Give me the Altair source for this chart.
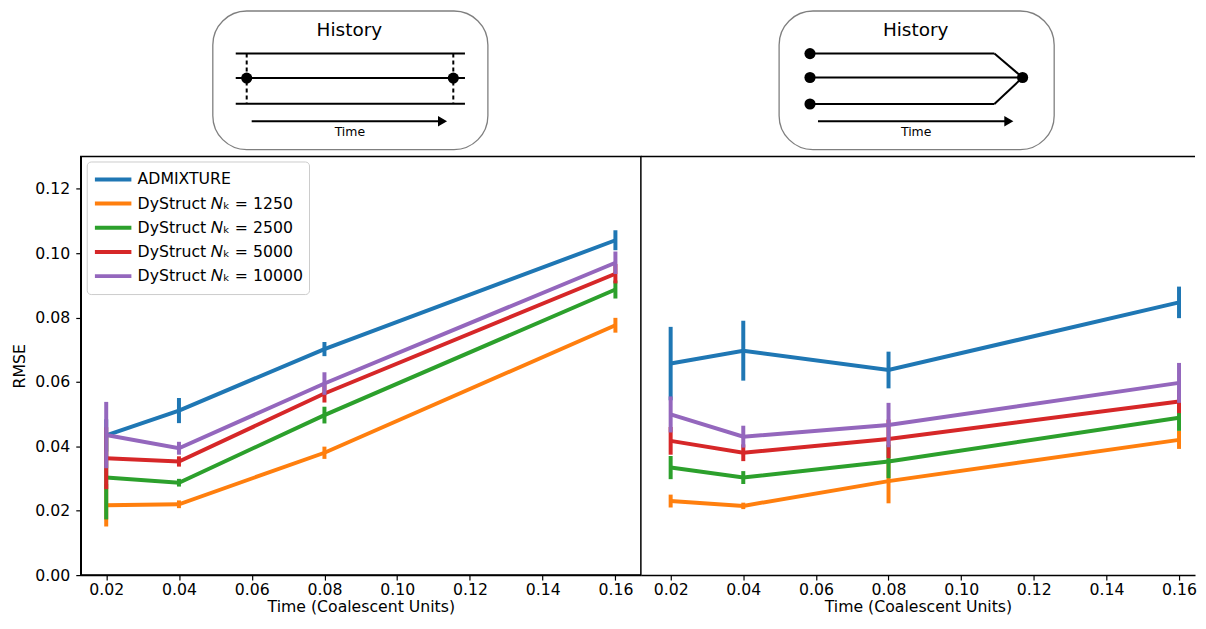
import altair as alt
import pandas as pd

# ---------------- data ----------------
times = [0.02, 0.04, 0.08, 0.16]
x_ticks = [0.02, 0.04, 0.06, 0.08, 0.10, 0.12, 0.14, 0.16]
y_ticks = [0.00, 0.02, 0.04, 0.06, 0.08, 0.10, 0.12]
series = ["ADMIXTURE", "DyStruct 𝑁ₖ = 1250", "DyStruct 𝑁ₖ = 2500",
          "DyStruct 𝑁ₖ = 5000", "DyStruct 𝑁ₖ = 10000"]
colors = ["#1f77b4", "#ff7f0e", "#2ca02c", "#d62728", "#9467bd"]

# left panel (pulse migration)
left_admixture = [0.0434, 0.0511, 0.0702, 0.1040]
left_admixture_err = [0.0050, 0.0039, 0.0022, 0.0031]
left_1250 = [0.0217, 0.0220, 0.0380, 0.0776]
left_1250_err = [0.0066, 0.0012, 0.0019, 0.0023]
left_2500 = [0.0303, 0.0287, 0.0497, 0.0887]
left_2500_err = [0.0130, 0.0012, 0.0026, 0.0028]
left_5000 = [0.0363, 0.0353, 0.0564, 0.0936]
left_5000_err = [0.0096, 0.0016, 0.0028, 0.0030]
left_10000 = [0.0435, 0.0394, 0.0595, 0.0970]
left_10000_err = [0.0103, 0.0020, 0.0035, 0.0035]

# right panel (population merge)
right_admixture = [0.0657, 0.0697, 0.0637, 0.0847]
right_admixture_err = [0.0114, 0.0093, 0.0057, 0.0049]
right_1250 = [0.0230, 0.0215, 0.0292, 0.0420]
right_1250_err = [0.0020, 0.0010, 0.0069, 0.0028]
right_2500 = [0.0334, 0.0303, 0.0353, 0.0489]
right_2500_err = [0.0036, 0.0020, 0.0052, 0.0041]
right_5000 = [0.0417, 0.0380, 0.0423, 0.0539]
right_5000_err = [0.0043, 0.0026, 0.0060, 0.0036]
right_10000 = [0.0499, 0.0430, 0.0466, 0.0597]
right_10000_err = [0.0056, 0.0034, 0.0069, 0.0062]

# schematic diagrams (in box-local units)
box_x = [0]; box_x2 = [276]; box_y = [0]; box_y2 = [139]
title_x = [137]; title_y = [19]; title_text = ["History"]
time_x = [137.5]; time_y = [121]; time_text = ["Time"]
arrow_x = [39]; arrow_x2 = [228]; arrow_y = [110.7]
arrow_tip_x = [230.5]

# pulse diagram: three lineages, migration at two times
pulse_seg_x = [23, 23, 23]
pulse_seg_x2 = [253, 253, 253]
pulse_seg_y = [42.7, 67.3, 93.0]
pulse_seg_y2 = [42.7, 67.3, 93.0]
pulse_dash_x = [34, 241.3]
pulse_dash_y = [42.7, 42.7]
pulse_dash_y2 = [93.0, 93.0]
pulse_dot_x = [34, 241.3]
pulse_dot_y = [67.3, 67.3]

# merge diagram: three lineages merging into one
merge_seg_x = [31, 216, 31, 31, 216]
merge_seg_x2 = [216, 244.3, 244.3, 216, 244.3]
merge_seg_y = [42.7, 42.7, 66.7, 93.3, 93.3]
merge_seg_y2 = [42.7, 66.7, 66.7, 93.3, 66.7]
merge_dot_x = [31, 31, 31, 244.3]
merge_dot_y = [42.7, 66.7, 93.3, 66.7]

LEFT_W = 562
RIGHT_W = 556
PANEL_H = 420
DIAG_H = 147
FONT = "DejaVu Sans"
AX_FS = 15.75


def panel(means, errs, left):
    rows = []
    for s, m, e in zip(series, means, errs):
        for t, v, d in zip(times, m, e):
            rows.append({"series": s, "time": t, "rmse": v, "lo": v - d, "hi": v + d})
    df = pd.DataFrame(rows)
    width = LEFT_W if left else RIGHT_W
    xdom = [0.013, 0.167] if left else [0.0118, 0.1644]
    xscale = alt.Scale(domain=xdom, nice=False, zero=False)
    yscale = alt.Scale(domain=[0, 0.13], nice=False, zero=False)
    xaxis = alt.Axis(values=x_ticks, format=".2f", title="Time (Coalescent Units)",
                     labelPadding=2, titlePadding=3)
    if left:
        yaxis = alt.Axis(values=y_ticks, format=".2f", title="RMSE", labelPadding=6,
                         titlePadding=7)
        legend = alt.Legend(title=None, orient="none", legendX=6, legendY=5,
                            symbolType="stroke",
                            symbolStrokeWidth=4, symbolSize=1340, clipHeight=24,
                            rowPadding=0.25, labelFontSize=15.75, labelFont=FONT,
                            labelColor="black", padding=6, strokeColor="#cccccc",
                            fillColor="white", cornerRadius=4, labelOffset=4,
                            labelLimit=400)
    else:
        yaxis = None
        legend = None
    color = alt.Color("series:N", scale=alt.Scale(domain=series, range=colors),
                      sort=series, legend=legend)
    layers = []
    for s in series:
        base = alt.Chart(df[df["series"] == s])
        line = base.mark_line(strokeWidth=4).encode(
            x=alt.X("time:Q", scale=xscale, axis=xaxis),
            y=alt.Y("rmse:Q", scale=yscale, axis=yaxis),
            color=color,
        )
        bars = base.mark_rule(strokeWidth=4).encode(
            x=alt.X("time:Q", scale=xscale, axis=xaxis),
            y=alt.Y("lo:Q", scale=yscale, axis=yaxis),
            y2="hi:Q",
            color=color,
        )
        layers += [line, bars]
    if not left:
        top = alt.Chart(pd.DataFrame({"k": [0]})).mark_rule(
            color="black", strokeWidth=1.5).encode(
            x=alt.value(0), x2=alt.value(width), y=alt.value(0))
        layers.append(top)
    ch = alt.layer(*layers).properties(width=width, height=PANEL_H)
    if left:
        ch = ch.properties(view=alt.ViewBackground(stroke="black", strokeWidth=1.5))
    else:
        ch = ch.properties(view=alt.ViewBackground(stroke="transparent"))
    return ch


def diagram(offset, width, seg_x, seg_x2, seg_y, seg_y2, dot_x, dot_y, dash=None):
    xs = alt.Scale(domain=[-offset, width - offset], nice=False, zero=False)
    ys = alt.Scale(domain=[-1, DIAG_H - 1], nice=False, zero=False, reverse=True)

    def X(f):
        return alt.X(f, scale=xs, axis=None)

    def Y(f):
        return alt.Y(f, scale=ys, axis=None)

    box = alt.Chart(pd.DataFrame({"x": box_x, "x2": box_x2, "y": box_y, "y2": box_y2})).mark_rect(
        cornerRadius=34, fill="white", stroke="#7f7f7f", strokeWidth=1.3
    ).encode(x=X("x:Q"), x2="x2:Q", y=Y("y:Q"), y2="y2:Q")
    segs = alt.Chart(pd.DataFrame({"x": seg_x, "x2": seg_x2, "y": seg_y, "y2": seg_y2})).mark_rule(
        color="black", strokeWidth=2
    ).encode(x=X("x:Q"), x2="x2:Q", y=Y("y:Q"), y2="y2:Q")
    arrow = alt.Chart(pd.DataFrame({"x": arrow_x, "x2": arrow_x2, "y": arrow_y})).mark_rule(
        color="black", strokeWidth=2
    ).encode(x=X("x:Q"), x2="x2:Q", y=Y("y:Q"))
    tip = alt.Chart(pd.DataFrame({"x": arrow_tip_x, "y": arrow_y})).mark_point(
        shape="triangle-right", filled=True, color="black", size=110, opacity=1
    ).encode(x=X("x:Q"), y=Y("y:Q"))
    dots = alt.Chart(pd.DataFrame({"x": dot_x, "y": dot_y})).mark_point(
        shape="circle", filled=True, color="black", size=125, opacity=1
    ).encode(x=X("x:Q"), y=Y("y:Q"))
    title = alt.Chart(pd.DataFrame({"x": title_x, "y": title_y, "t": title_text})).mark_text(
        font=FONT, fontSize=18.5, color="black", align="center", baseline="middle"
    ).encode(x=X("x:Q"), y=Y("y:Q"), text="t:N")
    time = alt.Chart(pd.DataFrame({"x": time_x, "y": time_y, "t": time_text})).mark_text(
        font=FONT, fontSize=12.5, color="black", align="center", baseline="middle"
    ).encode(x=X("x:Q"), y=Y("y:Q"), text="t:N")
    layers = [box, segs]
    if dash is not None:
        dx, dy, dy2 = dash
        dashed = alt.Chart(pd.DataFrame({"x": dx, "y": dy, "y2": dy2})).mark_rule(
            color="black", strokeWidth=2, strokeDash=[4, 3]
        ).encode(x=X("x:Q"), y=Y("y:Q"), y2="y2:Q")
        layers.append(dashed)
    layers += [arrow, tip, dots, title, time]
    return alt.layer(*layers).properties(
        width=width, height=DIAG_H, view=alt.ViewBackground(stroke="transparent"))


diag_left = diagram(132.5, LEFT_W, pulse_seg_x, pulse_seg_x2, pulse_seg_y, pulse_seg_y2,
                    pulse_dot_x, pulse_dot_y,
                    dash=(pulse_dash_x, pulse_dash_y, pulse_dash_y2))
diag_right = diagram(138.7, RIGHT_W, merge_seg_x, merge_seg_x2, merge_seg_y, merge_seg_y2,
                     merge_dot_x, merge_dot_y)

panel_left = panel([left_admixture, left_1250, left_2500, left_5000, left_10000],
                   [left_admixture_err, left_1250_err, left_2500_err, left_5000_err, left_10000_err],
                   True)
panel_right = panel([right_admixture, right_1250, right_2500, right_5000, right_10000],
                    [right_admixture_err, right_1250_err, right_2500_err, right_5000_err, right_10000_err],
                    False)

chart = alt.concat(diag_left, diag_right, panel_left, panel_right,
                   columns=2, spacing=0, bounds="flush", align="each").resolve_scale(
    color="independent", x="independent", y="independent"
).properties(
    padding={"left": 3, "top": 0, "right": 0, "bottom": 0}
).configure(
    font=FONT
).configure_axis(
    labelFont=FONT, titleFont=FONT, labelFontSize=AX_FS, titleFontSize=AX_FS,
    titleFontWeight="normal", labelColor="black", titleColor="black",
    tickColor="black", tickSize=5, tickWidth=1.2, domainColor="black",
    domainWidth=1.5, grid=False
)

chart.save("out.html", embed_options={"renderer": "svg", "actions": False})
